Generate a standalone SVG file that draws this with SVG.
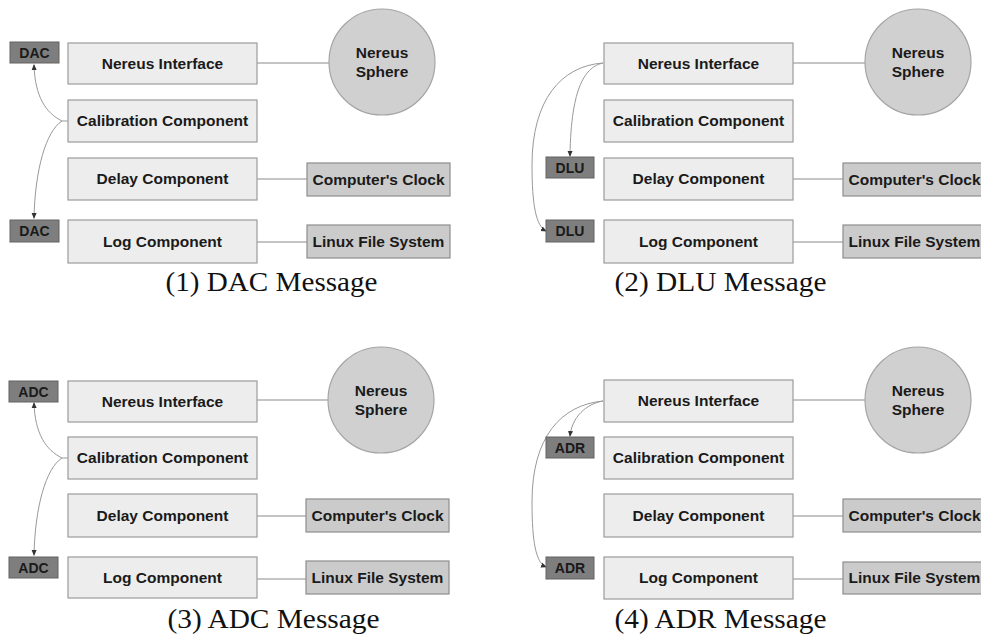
<svg xmlns="http://www.w3.org/2000/svg" width="981" height="639" viewBox="0 0 981 639">
<defs>
<style>
.box{fill:#ededed;stroke:#9b9b9b;stroke-width:1.2}
.ext{fill:#cbcbcb;stroke:#8e8e8e;stroke-width:1.2}
.sphere{fill:#d0d0d0;stroke:#a5a5a5;stroke-width:1.2}
.tag{fill:#7e7e7e;stroke:#626262;stroke-width:1}
.lbl{font-family:"Liberation Sans",Arial,sans-serif;font-weight:bold;font-size:15.5px;fill:#1a1a1a;text-anchor:middle}
.tl{font-family:"Liberation Sans",Arial,sans-serif;font-weight:bold;font-size:14px;fill:#1a1a1a;text-anchor:middle}
.cap{font-family:"Liberation Serif","Times New Roman",serif;font-size:28px;fill:#111;text-anchor:middle}
.link{stroke:#8a8a8a;stroke-width:1;fill:none}
.flow{stroke:#999;stroke-width:1;fill:none;marker-end:url(#ah)}
</style>
<marker id="ah" markerWidth="6" markerHeight="6" refX="5" refY="3" orient="auto" markerUnits="userSpaceOnUse"><path d="M0,0.5 L6,3 L0,5.5 z" fill="#333"/></marker>
</defs>
<rect width="981" height="639" fill="#fff"/>

<!-- Panel 1: DAC -->
<g id="panel1">
  <g id="p1-connectors">
    <path class="link" d="M257,63 L329,63"/>
    <path class="link" d="M257,179 L307,179"/>
    <path class="link" d="M257,242 L307,242"/>
    <path class="flow" d="M68,121 L62,121 C46,113 35,97 34,65"/>
    <path class="flow" d="M62,121 C46,131 35,170 34,218"/>
  </g>
  <g id="p1-nereus-interface"><rect class="box" x="68" y="43" width="189" height="41"/><text class="lbl" x="162.5" y="69">Nereus Interface</text></g>
  <g id="p1-calibration"><rect class="box" x="68" y="100" width="189" height="42"/><text class="lbl" x="162.5" y="126">Calibration Component</text></g>
  <g id="p1-delay"><rect class="box" x="68" y="158" width="189" height="42"/><text class="lbl" x="162.5" y="184">Delay Component</text></g>
  <g id="p1-log"><rect class="box" x="68" y="220" width="189" height="43"/><text class="lbl" x="162.5" y="247">Log Component</text></g>
  <g id="p1-sphere"><circle class="sphere" cx="382" cy="62" r="53"/><text class="lbl" x="382" y="58">Nereus</text><text class="lbl" x="382" y="77">Sphere</text></g>
  <g id="p1-clock"><rect class="ext" x="307" y="163" width="143" height="33"/><text class="lbl" x="378.5" y="185">Computer's Clock</text></g>
  <g id="p1-fs"><rect class="ext" x="307" y="225" width="143" height="33"/><text class="lbl" x="378.5" y="247">Linux File System</text></g>
  <g id="p1-tag1"><rect class="tag" x="10" y="42" width="49" height="21"/><text class="tl" x="34.5" y="58">DAC</text></g>
  <g id="p1-tag2"><rect class="tag" x="10" y="220" width="49" height="22"/><text class="tl" x="34.5" y="236">DAC</text></g>
  <text id="p1-caption" class="cap" x="271.5" y="291" textLength="212" lengthAdjust="spacingAndGlyphs">(1) DAC Message</text>
</g>

<!-- Panel 2: DLU -->
<g id="panel2" transform="translate(536,0)">
  <g id="p2-connectors">
    <path class="link" d="M257,63 L329,63"/>
    <path class="link" d="M257,179 L307,179"/>
    <path class="link" d="M257,242 L307,242"/>
    <path class="flow" d="M67,63 C50,67 35,85 34,156"/>
    <path class="flow" d="M67,63 C25,66 -4,100 -4,165 C-4,205 0,226 10,231"/>
  </g>
  <g id="p2-nereus-interface"><rect class="box" x="68" y="43" width="189" height="41"/><text class="lbl" x="162.5" y="69">Nereus Interface</text></g>
  <g id="p2-calibration"><rect class="box" x="68" y="100" width="189" height="42"/><text class="lbl" x="162.5" y="126">Calibration Component</text></g>
  <g id="p2-delay"><rect class="box" x="68" y="158" width="189" height="42"/><text class="lbl" x="162.5" y="184">Delay Component</text></g>
  <g id="p2-log"><rect class="box" x="68" y="220" width="189" height="43"/><text class="lbl" x="162.5" y="247">Log Component</text></g>
  <g id="p2-sphere"><circle class="sphere" cx="382" cy="62" r="53"/><text class="lbl" x="382" y="58">Nereus</text><text class="lbl" x="382" y="77">Sphere</text></g>
  <g id="p2-clock"><rect class="ext" x="307" y="163" width="143" height="33"/><text class="lbl" x="378.5" y="185">Computer's Clock</text></g>
  <g id="p2-fs"><rect class="ext" x="307" y="225" width="143" height="33"/><text class="lbl" x="378.5" y="247">Linux File System</text></g>
  <g id="p2-tag1"><rect class="tag" x="10" y="157" width="48" height="21"/><text class="tl" x="34" y="173">DLU</text></g>
  <g id="p2-tag2"><rect class="tag" x="10" y="220" width="48" height="22"/><text class="tl" x="34" y="236">DLU</text></g>
  <text id="p2-caption" class="cap" x="184.5" y="291" textLength="212" lengthAdjust="spacingAndGlyphs">(2) DLU Message</text>
</g>

<!-- Panel 3: ADC -->
<g id="panel3" transform="translate(0,337)">
  <g id="p3-connectors">
    <path class="link" d="M257,63 L329,63"/>
    <path class="link" d="M257,179 L307,179"/>
    <path class="link" d="M257,242 L307,242"/>
    <path class="flow" d="M68,121 L62,121 C46,113 35,97 34,66"/>
    <path class="flow" d="M62,121 C46,131 35,170 34,218"/>
  </g>
  <g id="p3-nereus-interface"><rect class="box" x="68" y="44" width="189" height="41"/><text class="lbl" x="162.5" y="70">Nereus Interface</text></g>
  <g id="p3-calibration"><rect class="box" x="68" y="100" width="189" height="42"/><text class="lbl" x="162.5" y="126">Calibration Component</text></g>
  <g id="p3-delay"><rect class="box" x="68" y="157" width="189" height="43"/><text class="lbl" x="162.5" y="184">Delay Component</text></g>
  <g id="p3-log"><rect class="box" x="68" y="220" width="189" height="41"/><text class="lbl" x="162.5" y="246">Log Component</text></g>
  <g id="p3-sphere"><circle class="sphere" cx="381" cy="63" r="53"/><text class="lbl" x="381" y="59">Nereus</text><text class="lbl" x="381" y="78">Sphere</text></g>
  <g id="p3-clock"><rect class="ext" x="306" y="162" width="143" height="33"/><text class="lbl" x="377.5" y="184">Computer's Clock</text></g>
  <g id="p3-fs"><rect class="ext" x="306" y="224" width="143" height="33"/><text class="lbl" x="377.5" y="246">Linux File System</text></g>
  <g id="p3-tag1"><rect class="tag" x="9" y="44" width="49" height="21"/><text class="tl" x="33.5" y="60">ADC</text></g>
  <g id="p3-tag2"><rect class="tag" x="9" y="220" width="49" height="21"/><text class="tl" x="33.5" y="236">ADC</text></g>
  <text id="p3-caption" class="cap" x="273.5" y="291" textLength="212" lengthAdjust="spacingAndGlyphs">(3) ADC Message</text>
</g>

<!-- Panel 4: ADR -->
<g id="panel4" transform="translate(536,337)">
  <g id="p4-connectors">
    <path class="link" d="M257,63 L329,63"/>
    <path class="link" d="M257,179 L307,179"/>
    <path class="link" d="M257,242 L307,242"/>
    <path class="flow" d="M67,64 C50,67 36,80 34,99"/>
    <path class="flow" d="M67,64 C25,68 -4,100 -4,165 C-4,205 0,226 10,230"/>
  </g>
  <g id="p4-nereus-interface"><rect class="box" x="68" y="43" width="189" height="42"/><text class="lbl" x="162.5" y="69">Nereus Interface</text></g>
  <g id="p4-calibration"><rect class="box" x="68" y="100" width="189" height="42"/><text class="lbl" x="162.5" y="126">Calibration Component</text></g>
  <g id="p4-delay"><rect class="box" x="68" y="157" width="189" height="43"/><text class="lbl" x="162.5" y="184">Delay Component</text></g>
  <g id="p4-log"><rect class="box" x="68" y="220" width="189" height="42"/><text class="lbl" x="162.5" y="246">Log Component</text></g>
  <g id="p4-sphere"><circle class="sphere" cx="382" cy="63" r="53"/><text class="lbl" x="382" y="59">Nereus</text><text class="lbl" x="382" y="78">Sphere</text></g>
  <g id="p4-clock"><rect class="ext" x="307" y="162" width="143" height="33"/><text class="lbl" x="378.5" y="184">Computer's Clock</text></g>
  <g id="p4-fs"><rect class="ext" x="307" y="225" width="143" height="32"/><text class="lbl" x="378.5" y="246">Linux File System</text></g>
  <g id="p4-tag1"><rect class="tag" x="10" y="100" width="48" height="21"/><text class="tl" x="34" y="116">ADR</text></g>
  <g id="p4-tag2"><rect class="tag" x="10" y="220" width="48" height="22"/><text class="tl" x="34" y="236">ADR</text></g>
  <text id="p4-caption" class="cap" x="184.5" y="291" textLength="212" lengthAdjust="spacingAndGlyphs">(4) ADR Message</text>
</g>
</svg>
